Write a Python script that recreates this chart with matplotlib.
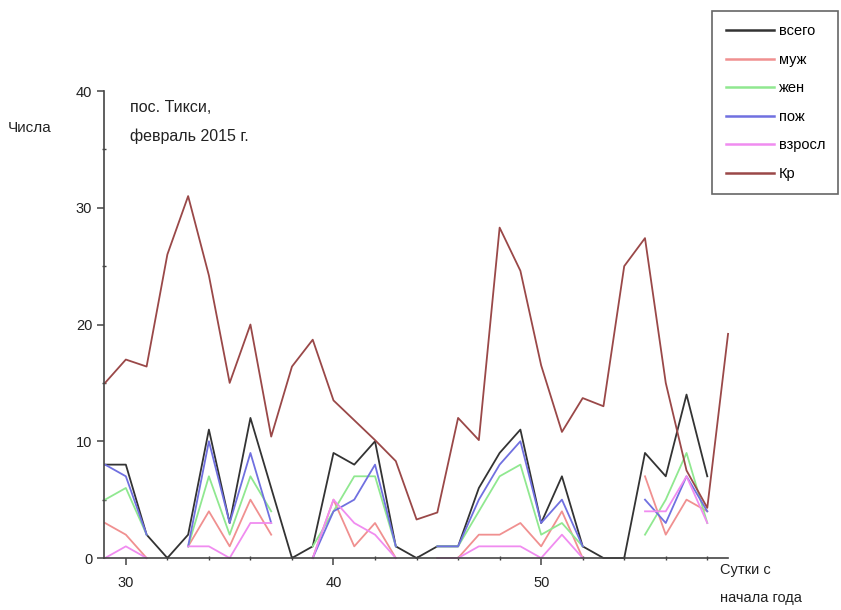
import numpy as np
import matplotlib
matplotlib.use('Agg')
import matplotlib.pyplot as plt
from matplotlib.ticker import MultipleLocator

nan = np.nan

# Days since start of the year
days = np.arange(29, 60)

# Daily counts (nan = no data)
vsego = [8, 8, 2, 0, 2, 11, 3, 12, 6, 0, 1, 9, 8, 10, 1, 0, 1, 1, 6, 9, 11, 3, 7, 1, 0, 0, 9, 7, 14, 7, nan]
muzh = [3, 2, 0, nan, 1, 4, 1, 5, 2, nan, 0, 5, 1, 3, 0, nan, 0, 0, 2, 2, 3, 1, 4, 0, nan, nan, 7, 2, 5, 4, nan]
zhen = [5, 6, 2, nan, 1, 7, 2, 7, 4, nan, 1, 4, 7, 7, 1, nan, 1, 1, 4, 7, 8, 2, 3, 1, nan, nan, 2, 5, 9, 3, nan]
pozh = [8, 7, 2, nan, 1, 10, 3, 9, 3, nan, 0, 4, 5, 8, 1, nan, 1, 1, 5, 8, 10, 3, 5, 1, nan, nan, 5, 3, 7, 4, nan]
vzrosl = [0, 1, 0, nan, 1, 1, 0, 3, 3, nan, 0, 5, 3, 2, 0, nan, 0, 0, 1, 1, 1, 0, 2, 0, nan, nan, 4, 4, 7, 3, nan]
kr = [15, 17, 16.4, 26, 31, 24.2, 15, 20, 10.4, 16.4, 18.7, 13.5, 11.8, 10.1, 8.3, 3.3, 3.9, 12, 10.1,
      28.3, 24.6, 16.5, 10.8, 13.7, 13, 25, 27.4, 15, 7.5, 4.3, 19.2]

labels = ['всего', 'муж', 'жен', 'пож', 'взросл', 'Кр']
colors = ['#333333', '#f09090', '#90e890', '#7070e0', '#f08cf0', '#9a4848']

plt.rcParams['font.family'] = ['Liberation Sans', 'DejaVu Sans']

fig = plt.figure(figsize=(8.41, 6.10), dpi=100)
ax = fig.add_axes([0.1237, 0.0852, 0.742, 0.7656])

series = [vsego, muzh, zhen, pozh, vzrosl, kr]
for s, lab, c in zip(series, labels, colors):
    ax.plot(days, s, color=c, lw=1.3, label=lab, clip_on=False)

ax.set_xlim(28.95, 59)
ax.set_ylim(0, 40)
ax.xaxis.set_major_locator(MultipleLocator(10))
ax.xaxis.set_minor_locator(MultipleLocator(2))
ax.set_yticks([0, 10, 20, 30, 40])
ax.yaxis.set_minor_locator(MultipleLocator(5))
ax.spines['top'].set_visible(False)
ax.spines['right'].set_visible(False)
for sp in ['left', 'bottom']:
    ax.spines[sp].set_color('#444444')
    ax.spines[sp].set_linewidth(1.2)
ax.tick_params(which='major', direction='out', length=5, width=1.1, labelsize=10.5,
               colors='#444444', labelcolor='#222222')
ax.tick_params(axis='x', which='major', pad=8)
ax.tick_params(which='minor', direction='inout', length=3, width=1.0, colors='#444444')

# Texts
fig.text(8 / 841, 1 - 128 / 610, 'Числа', fontsize=11, va='center', ha='left', color='#222222')
fig.text(130 / 841, 1 - 108 / 610, 'пос. Тикси,', fontsize=11.5, va='center', ha='left', color='#222222')
fig.text(130 / 841, 1 - 136 / 610, 'февраль 2015 г.', fontsize=11.5, va='center', ha='left', color='#222222')
fig.text(720 / 841, 1 - 570 / 610, 'Сутки с', fontsize=10.5, va='center', ha='left', color='#222222')
fig.text(720 / 841, 1 - 598 / 610, 'начала года', fontsize=10.5, va='center', ha='left', color='#222222')

leg = fig.legend(loc='upper right', bbox_to_anchor=(0.997, 0.982), borderaxespad=0,
                 fontsize=10.5, handlelength=3.3, handletextpad=0.35, labelspacing=1.0,
                 fancybox=False, framealpha=1, edgecolor='#666666', borderpad=0.9)
leg.get_frame().set_linewidth(1.2)
for line in leg.get_lines():
    line.set_linewidth(1.8)

fig.savefig('out.png', dpi=100)
